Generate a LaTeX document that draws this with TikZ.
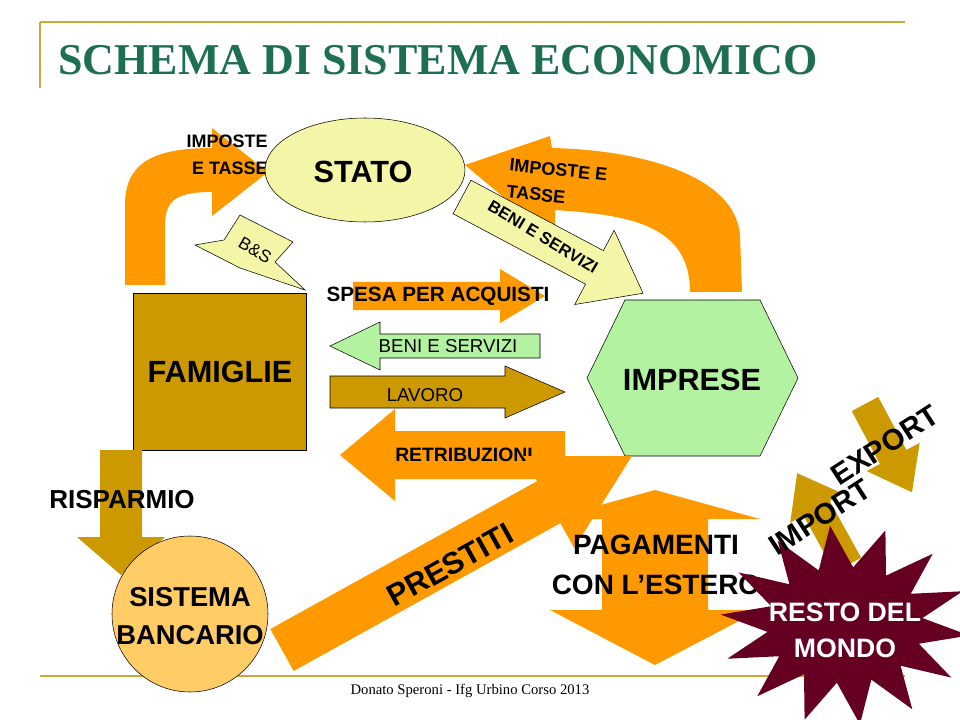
\documentclass[tikz,border=0pt]{standalone}
\usepackage{fontspec}
\setmainfont{Liberation Sans}
\newfontfamily\serifx{Liberation Serif}
\definecolor{org}{HTML}{FF9900}
\definecolor{gld}{HTML}{CC9900}
\definecolor{pyel}{HTML}{F5F5A8}
\definecolor{pgrn}{HTML}{B3F2A0}
\definecolor{bank}{HTML}{FFCC66}
\definecolor{maroon}{HTML}{660022}
\definecolor{ttl}{HTML}{1E6E50}
\definecolor{rule}{HTML}{C8A93C}
\newcommand\barrow[8]{%
 \begin{scope}[shift={(#1,#2)},rotate=#3]
 \fill[#8] (0,-#5/2)--(#4-#7,-#5/2)--(#4-#7,-#6/2)--(#4,0)--(#4-#7,#6/2)--(#4-#7,#5/2)--(0,#5/2)--cycle;
 \end{scope}}
\tikzset{lbl/.style={font=\bfseries\fontsize{14.5}{15}\selectfont,align=center,inner sep=0},
 big/.style={font=\bfseries\fontsize{23}{23}\selectfont,align=center,inner sep=0}}
\begin{document}
\begin{tikzpicture}[x=0.75pt,y=-0.75pt]
\useasboundingbox (0,0) rectangle (960,720);
\fill[white] (0,0) rectangle (960,720);
% rules
\draw[rule,line width=1.5pt] (40,22)--(905,22) (40,22)--(40,88) (40,676)--(905,676);
\node[anchor=west,text=ttl,font=\serifx\bfseries\fontsize{33}{36}\selectfont,inner sep=0] (title) at (58,60) {SCHEMA DI SISTEMA ECONOMICO};
\node[font=\serifx\fontsize{11}{12}\selectfont] (foot) at (470,691) {Donato Speroni - Ifg Urbino Corso 2013};
\node[font=\serifx\fontsize{11}{12}\selectfont] (pg) at (898,689) {8};
% left bent arrow
\fill[org] (125,285)--(125,205) .. controls (125,165) and (150,148) .. (212,148) -- (212,128) -- (268,172) -- (212,216) -- (212,192) .. controls (180,192) and (165,198) .. (165,225) -- (165,285) -- cycle;
\node[lbl,align=right,anchor=east,font=\bfseries\fontsize{13.5}{20}\selectfont] (it1) at (268,155) {IMPOSTE\\E TASSE};
% right curved arrow
\fill[org] (742,292) -- (740,235) .. controls (735,175) and (640,150) .. (552,148) -- (550,136) -- (465,165) -- (555,240) -- (555,210) .. controls (630,215) and (690,225) .. (690,292) -- cycle;
\node[lbl,anchor=west,align=left,rotate=-6,font=\bfseries\fontsize{13.5}{20}\selectfont] (it2) at (508,178) {IMPOSTE E\\TASSE};
% STATO
\draw[fill=pyel] (365,170) ellipse [x radius=100,y radius=52];
\node[big,font=\bfseries\fontsize{23}{24}\selectfont] (stato) at (363,172) {STATO};
% BENI E SERVIZI diagonal
\begin{scope}[shift={(462,197)},rotate=-28]
\draw[fill=pyel] (0,-19)--(150,-19)--(150,-42)--(205,0)--(150,42)--(150,19)--(0,19)--cycle;
\end{scope}
\node[font=\bfseries\fontsize{12.5}{13}\selectfont,rotate=-31] (bes1) at (543,237) {BENI E SERVIZI};
% B&S
\draw[fill=pyel] (240,215)--(293,242)--(275,262)--(305,290)--(240,268)--(195,245)--(224,240)--cycle;
\node[font=\fontsize{13}{13}\selectfont,rotate=-30] (bs) at (255,250) {B\&S};
% FAMIGLIE
\draw[fill=gld] (133,293) rectangle (306,450);
\node[big] (fam) at (220,372) {FAMIGLIE};
% IMPRESE
\draw[fill=pgrn] (587,378)--(625,300)--(760,300)--(798,378)--(760,456)--(625,456)--cycle;
\node[big] (imp) at (692,380) {IMPRESE};
% horizontal arrows
\barrow{353}{296}{0}{192}{28}{54}{45}{org}
\node[lbl,font=\bfseries\fontsize{15.5}{15}\selectfont] (spesa) at (438,296) {SPESA PER ACQUISTI};
\begin{scope}[shift={(540,346)},rotate=180]
\draw[fill=pgrn] (0,-12)--(160,-12)--(160,-24)--(210,0)--(160,24)--(160,12)--(0,12)--cycle;
\end{scope}
\node[font=\fontsize{14}{15}\selectfont] (bes2) at (448,346) {BENI E SERVIZI};
\begin{scope}[shift={(330,392)}]
\draw[fill=gld] (0,-16)--(175,-16)--(175,-26)--(235,0)--(175,26)--(175,16)--(0,16)--cycle;
\end{scope}
\node[font=\fontsize{14}{15}\selectfont] (lav) at (425,395) {LAVORO};
\barrow{565}{455}{180}{225}{48}{92}{55}{org}
\node[lbl] (retr) at (464,455) {RETRIBUZIONI};
% RISPARMIO
\barrow{121}{450}{-90}{125}{42}{88}{38}{gld}
\node[big,font=\bfseries\fontsize{19.5}{20}\selectfont] (risp) at (122,500) {RISPARMIO};
% BANCA
\draw[fill=bank] (190,614) circle (78);
\node[big,font=\bfseries\fontsize{20.5}{28}\selectfont] (banca) at (190,616) {SISTEMA\\BANCARIO};
% PRESTITI
\barrow{282}{650}{29}{400}{48}{105}{95}{org}
\node[big,rotate=29] (prest) at (450,565) {PRESTITI};
% PAGAMENTI double arrow
\fill[org] (655,490)--(760,519)--(708,519)--(708,610)--(760,610)--(655,665)--(550,610)--(602,610)--(602,519)--(550,519)--cycle;
\node[big,font=\bfseries\fontsize{21}{30}\selectfont] (pag) at (656,565) {PAGAMENTI\\CON L'ESTERO};
% IMPORT / EXPORT
\barrow{848}{565}{119}{105}{30}{60}{40}{gld}
\barrow{865}{404}{-62}{100}{30}{60}{40}{gld}
% starburst
\fill[maroon] plot[domain=0:27,samples=28,variable=\k] ({845+ifthenelse(isodd(\k),78,125)*cos(\k*360/28+6)},{625+ifthenelse(isodd(\k),58,100)*sin(\k*360/28+6)}) -- cycle;
\node[big,font=\bfseries\fontsize{20}{27}\selectfont,text=white] (rdm) at (845,630) {RESTO DEL\\MONDO};
\node[big,font=\bfseries\fontsize{22}{22}\selectfont,rotate=33] (imt) at (820,517) {IMPORT};
\node[big,font=\bfseries\fontsize{22}{22}\selectfont,rotate=33] (ext) at (885,445) {EXPORT};
\end{tikzpicture}
\end{document}
